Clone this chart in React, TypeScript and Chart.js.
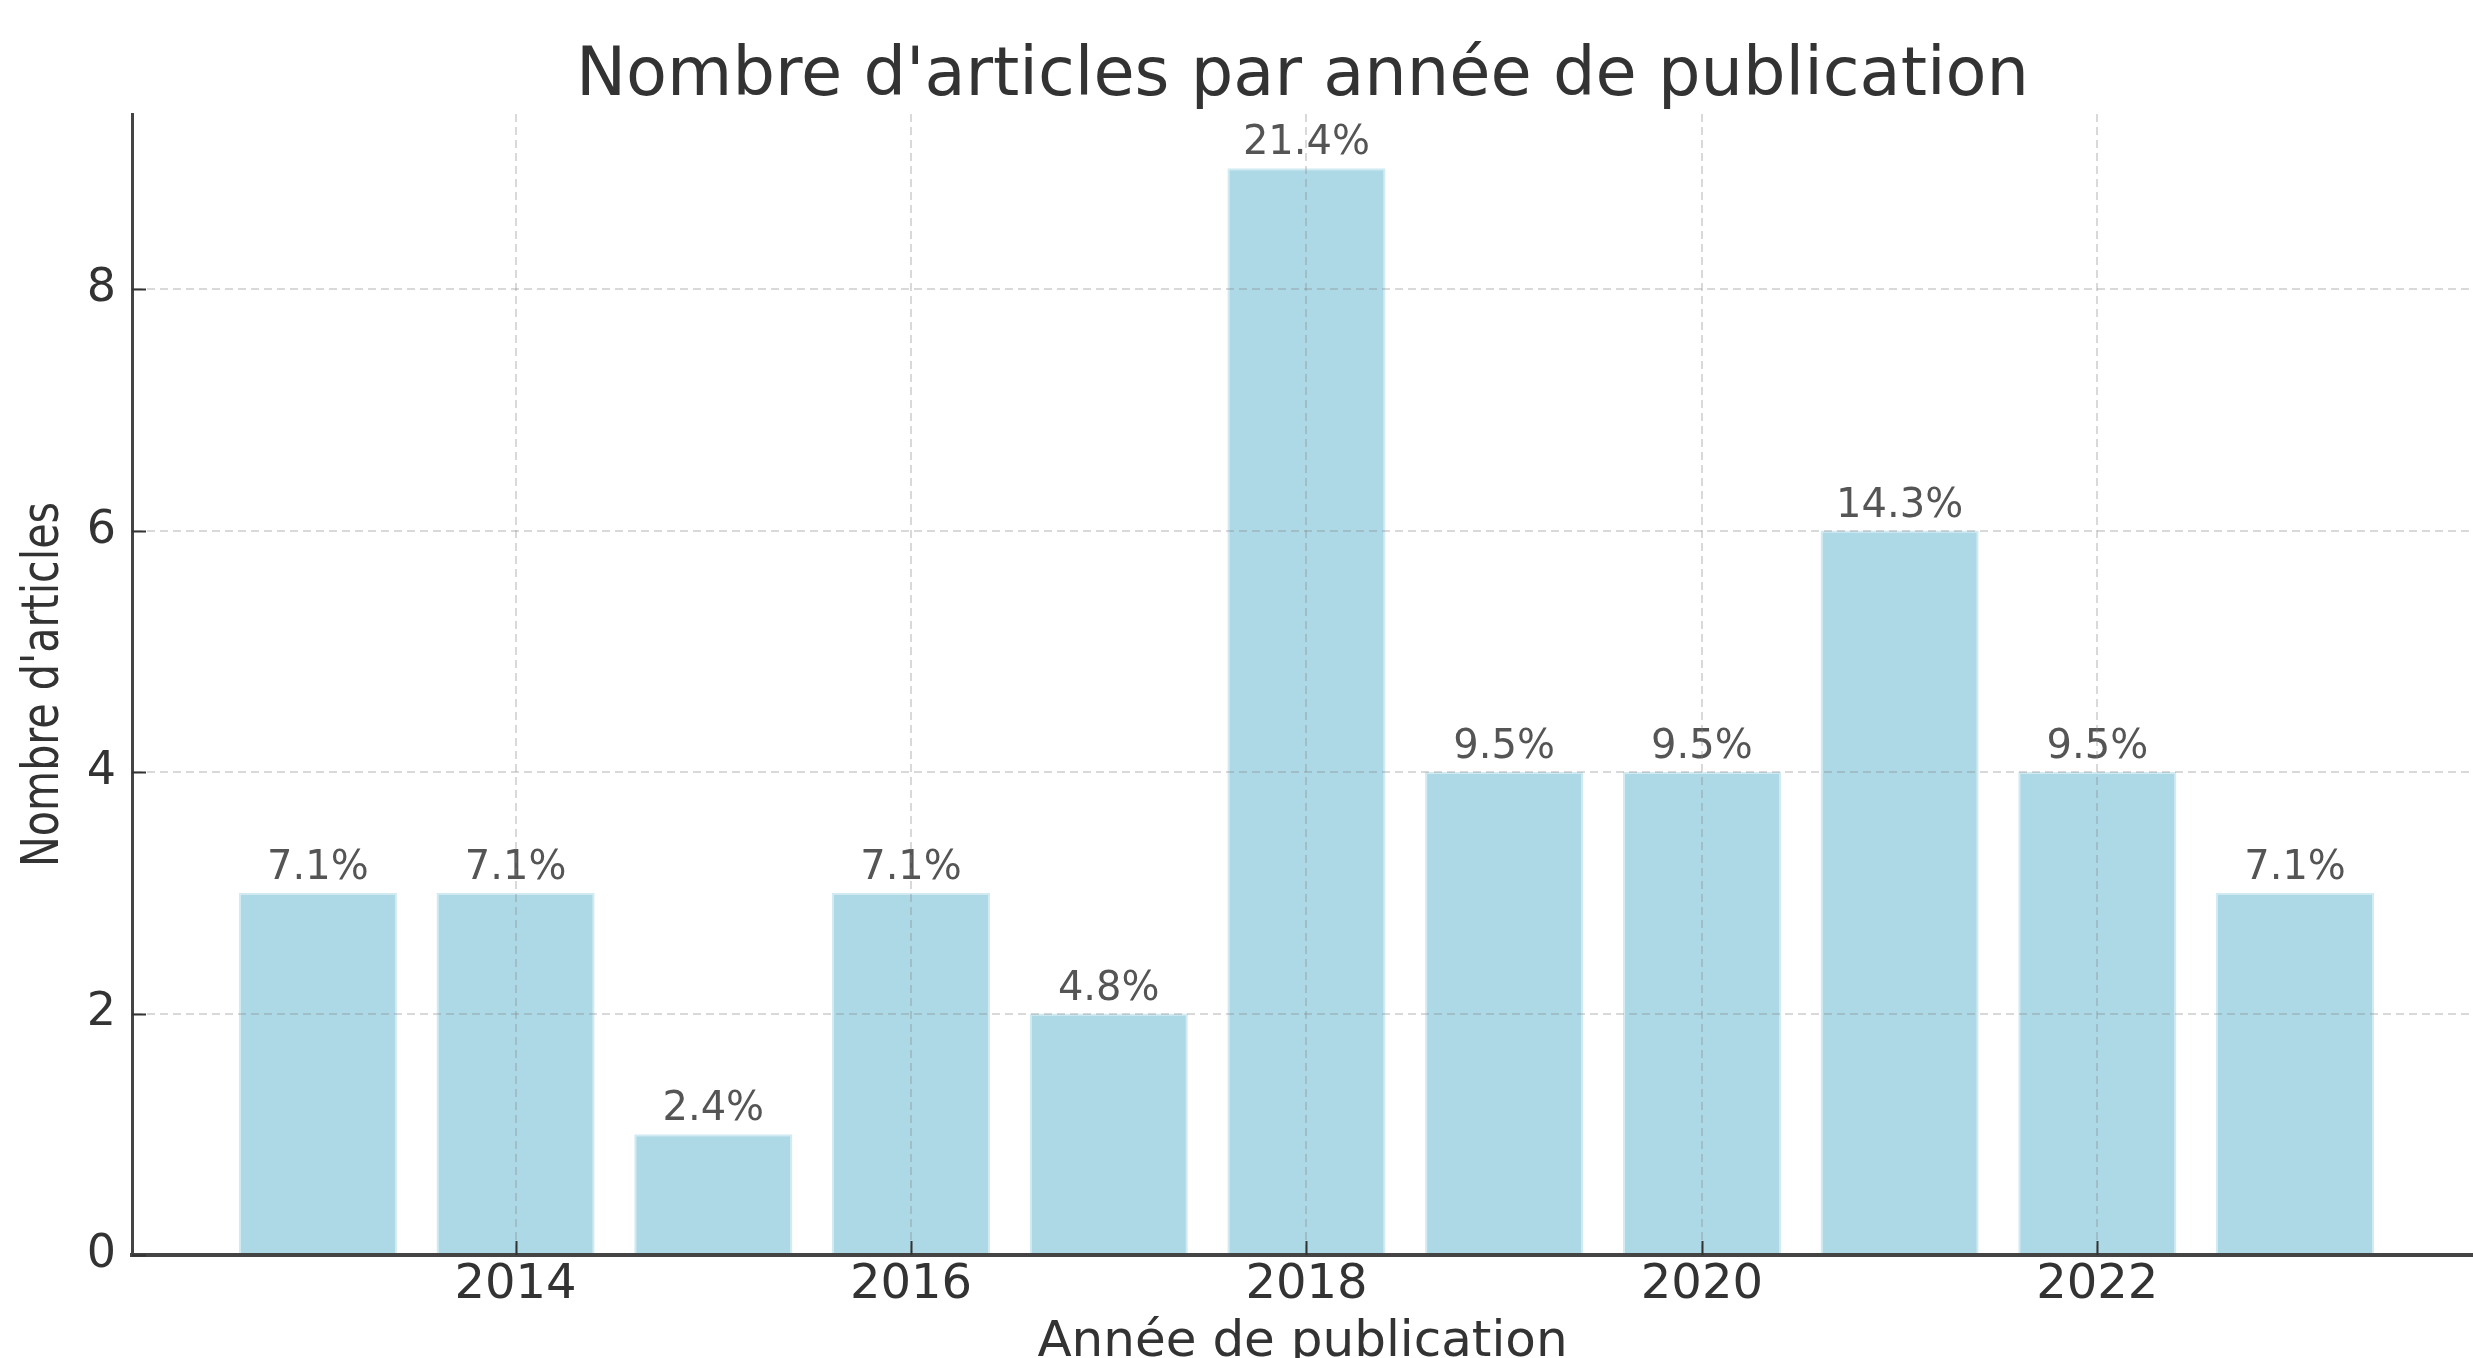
import React, { useEffect, useRef } from "react";
import { Chart, registerables } from "chart.js";

Chart.register(...registerables);

const years = [2013, 2014, 2015, 2016, 2017, 2018, 2019, 2020, 2021, 2022, 2023];
const counts = [3, 3, 1, 3, 2, 9, 4, 4, 6, 4, 3];
const xTicks = [2014, 2016, 2018, 2020, 2022];
const yTicks = [0, 2, 4, 6, 8];
const chartTitle = "Nombre d'articles par année de publication";
const xTitle = "Année de publication";
const yTitle = "Nombre d'articles";

const FONT = "'DejaVu Sans', 'Liberation Sans', sans-serif";

export default function App() {
  const ref = useRef<HTMLCanvasElement>(null);

  useEffect(() => {
    document.body.style.margin = "0";
    const canvas = ref.current;
    if (!canvas) return;
    const total = counts.reduce((a, b) => a + b, 0);
    const pct = counts.map((c) => ((c / total) * 100).toFixed(1) + "%");

    const decor = {
      id: "decor",
      afterDatasetsDraw(chart: any) {
        const ctx = chart.ctx as CanvasRenderingContext2D;
        const meta = chart.getDatasetMeta(0);
        ctx.save();
        ctx.fillStyle = "#555555";
        ctx.font = `40px ${FONT}`;
        ctx.textAlign = "center";
        ctx.textBaseline = "alphabetic";
        meta.data.forEach((bar: any, i: number) => {
          ctx.fillText(pct[i], bar.x, bar.y - 14);
        });
        ctx.restore();
      },
      afterDraw(chart: any) {
        const ctx = chart.ctx as CanvasRenderingContext2D;
        const ca = chart.chartArea;
        const xs = chart.scales.x;
        const ys = chart.scales.y;
        ctx.save();
        // inward tick marks
        ctx.strokeStyle = "#333333";
        ctx.lineWidth = 2;
        ctx.beginPath();
        xTicks.forEach((v) => {
          const px = Math.round(xs.getPixelForValue(v)) + 0.5;
          ctx.moveTo(px, ca.bottom);
          ctx.lineTo(px, ca.bottom - 14);
        });
        yTicks.forEach((v) => {
          const py = Math.round(ys.getPixelForValue(v)) + 0.5;
          ctx.moveTo(ca.left, py);
          ctx.lineTo(ca.left + 14, py);
        });
        ctx.stroke();

        const cx = (ca.left + ca.right) / 2;
        const cy = (ca.top + ca.bottom) / 2;
        ctx.fillStyle = "#333333";
        ctx.textAlign = "center";
        ctx.textBaseline = "alphabetic";
        ctx.font = `67px ${FONT}`;
        ctx.fillText(chartTitle, cx, 95);
        ctx.font = `50px ${FONT}`;
        ctx.fillText(xTitle, cx, 1356);
        ctx.translate(58, cy);
        ctx.rotate(-Math.PI / 2);
        ctx.font = `52px ${FONT}`;
        ctx.fillText(yTitle, 0, 0, 365);
        ctx.restore();
      },
    };

    const chart = new Chart(canvas, {
      type: "bar",
      data: {
        datasets: [
          {
            data: years.map((y, i) => ({ x: y, y: counts[i] })),
            backgroundColor: "#ADD8E6",
            borderColor: "#d2ebf2",
            borderWidth: 2,
            categoryPercentage: 1,
            barPercentage: 0.8,
          },
        ],
      },
      options: {
        animation: false,
        responsive: true,
        maintainAspectRatio: false,
        layout: { padding: { top: 114, left: 0, right: 0, bottom: 0 } },
        plugins: {
          legend: { display: false },
          tooltip: { enabled: false },
          title: { display: false },
        },
        scales: {
          x: {
            type: "linear",
            min: 2012.06,
            max: 2023.9,
            offset: false,
            afterBuildTicks: (s: any) => {
              s.ticks = xTicks.map((v) => ({ value: v }));
            },
            afterFit: (s: any) => {
              s.height = 103;
            },
            ticks: {
              color: "#333333",
              font: { family: FONT, size: 48 },
              padding: 2,
              maxRotation: 0,
              callback: (v: any) => String(v),
            },
            grid: {
              color: "rgba(128,128,128,0.3)",
              lineWidth: 2,
              drawTicks: false,
              offset: false,
              z: 1,
            },
            border: { display: true, color: "#444444", width: 4, dash: [8, 5], z: 2 },
          },
          y: {
            min: 0,
            max: 9.45,
            afterBuildTicks: (s: any) => {
              s.ticks = yTicks.map((v) => ({ value: v }));
            },
            afterFit: (s: any) => {
              s.width = 132;
            },
            ticks: {
              color: "#333333",
              font: { family: FONT, size: 46 },
              padding: 16,
            },
            grid: {
              color: "rgba(128,128,128,0.3)",
              lineWidth: 2,
              drawTicks: false,
              offset: false,
              z: 1,
            },
            border: { display: true, color: "#444444", width: 3, dash: [8, 5], z: 2 },
          },
        },
      },
      plugins: [decor],
    });
    return () => chart.destroy();
  }, []);

  return (
    <div style={{ position: "fixed", left: 0, top: 0, width: 2473, height: 1358, background: "#ffffff" }}>
      <canvas ref={ref} />
    </div>
  );
}
